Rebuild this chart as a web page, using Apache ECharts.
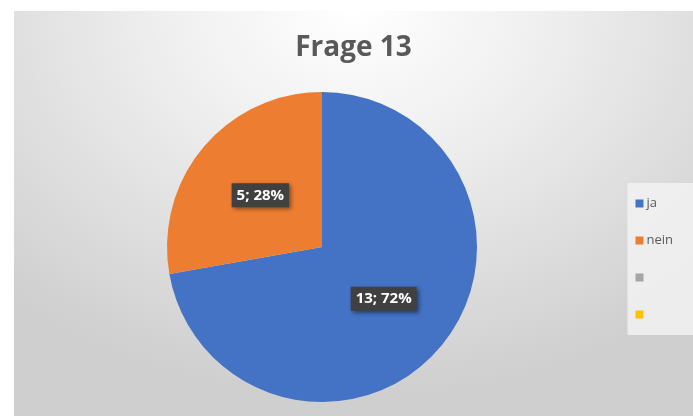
<!DOCTYPE html>
<html>
<head>
<meta charset="UTF-8">
<title>Frage 13</title>
<script src="https://cdn.jsdelivr.net/npm/echarts@6/dist/echarts.min.js"></script>
<style>
	body{margin:0;background:#fff;}
	#main{
		position:absolute;left:14px;top:11px;width:679px;height:405px;
		background:radial-gradient(ellipse 75% 95% at 50% 0%, #ffffff 0%, #f0f0f0 35%, #dedede 70%, #cfcfcf 100%);
	}
</style>
</head>
<body>
<div id="main"></div>
<script>
	// Daten
	var categories = ['ja', 'nein', 'x3', 'x4'];
	var values = [13, 5, 0, 0];
	var colors = ['#4472C4', '#ED7D31', '#A5A5A5', '#FFC000'];
	var titleText = 'Frage 13';

	var total = values.reduce(function (a, b) { return a + b; }, 0);
	var pieData = [];
	for (var i = 0; i < categories.length; i++) {
		pieData.push({
			name: categories[i],
			value: values[i],
			label: { show: values[i] > 0 }
		});
	}

	var myChart = echarts.init(document.getElementById('main'));
	var option = {
		color: colors,
		title: {
			text: titleText,
			left: 'center',
			top: 18,
			textStyle: {
				fontFamily: 'Open Sans',
				fontSize: 28,
				fontWeight: 'bold',
				color: '#595959'
			}
		},
		legend: {
			orient: 'vertical',
			right: 0,
			top: 172,
			itemWidth: 8,
			itemHeight: 8,
			itemGap: 24,
			icon: 'rect',
			padding: [14, 20, 14, 8],
			backgroundColor: 'rgba(242,242,242,0.85)',
			data: categories,
			formatter: function (name) {
				return (name === 'ja' || name === 'nein') ? name : ' ';
			},
			textStyle: {
				fontFamily: 'Open Sans',
				fontSize: 13,
				color: '#595959',
				padding: [0, 0, 0, -2]
			}
		},
		series: [{
			type: 'pie',
			center: [308, 236],
			radius: [0, 155],
			startAngle: 90,
			clockwise: true,
			avoidLabelOverlap: false,
			data: pieData,
			label: {
				position: 'inside',
				formatter: function (p) {
					return p.value + '; ' + Math.round(p.value / total * 100) + '%';
				},
				backgroundColor: '#404040',
				color: '#ffffff',
				fontFamily: 'Open Sans',
				fontWeight: 'bold',
				fontSize: 15,
				padding: [5, 5, 4, 5],
				shadowBlur: 4,
				shadowOffsetX: 2,
				shadowOffsetY: 2,
				shadowColor: 'rgba(0,0,0,0.45)'
			},
			labelLine: { show: false },
			emphasis: { disabled: true }
		}]
	};
	myChart.setOption(option);
</script>
</body>
</html>
